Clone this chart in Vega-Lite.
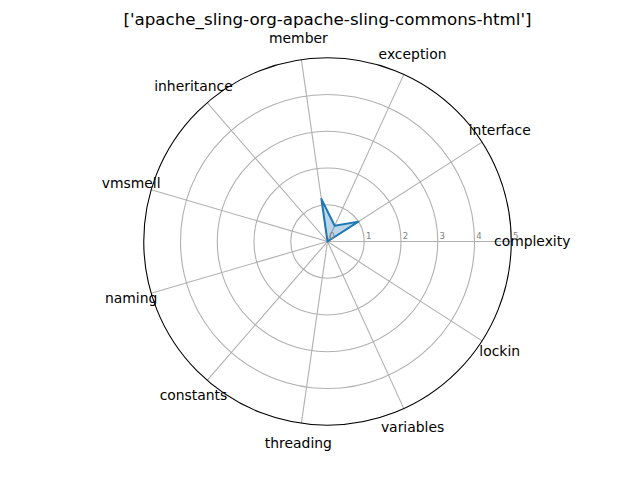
{
  "$schema": "https://vega.github.io/schema/vega-lite/v6.json",
  "width": 441,
  "height": 441,
  "autosize": {"type": "none"},
  "padding": {"left": 107, "top": 21, "right": 92, "bottom": 18},
  "background": "white",
  "config": {"view": {"stroke": null}, "font": "DejaVu Sans"},
  "title": {
    "text": "['apache_sling-org-apache-sling-commons-html']",
    "fontSize": 16.7,
    "fontWeight": "normal",
    "font": "DejaVu Sans",
    "color": "black",
    "anchor": "middle",
    "frame": "group",
    "baseline": "alphabetic",
    "offset": -21
  },
  "datasets": {
    "metrics": [
      {"metric": "complexity", "i": 0, "value": 0},
      {"metric": "interface", "i": 1, "value": 1.0},
      {"metric": "exception", "i": 2, "value": 0.47},
      {"metric": "member", "i": 3, "value": 1.17},
      {"metric": "inheritance", "i": 4, "value": 0},
      {"metric": "vmsmell", "i": 5, "value": 0},
      {"metric": "naming", "i": 6, "value": 0},
      {"metric": "constants", "i": 7, "value": 0},
      {"metric": "threading", "i": 8, "value": 0},
      {"metric": "variables", "i": 9, "value": 0},
      {"metric": "lockin", "i": 10, "value": 0}
    ],
    "rings": [
      {"r": 0},
      {"r": 1},
      {"r": 2},
      {"r": 3},
      {"r": 4},
      {"r": 5}
    ]
  },
  "layer": [
    {
      "data": {"name": "rings"},
      "transform": [{"filter": "datum.r >= 1 && datum.r <= 4"}],
      "mark": {"type": "point", "shape": "circle", "filled": false, "stroke": "#b0b0b0", "strokeWidth": 1.1, "opacity": 1},
      "encoding": {
        "x": {"datum": 0, "type": "quantitative", "scale": {"domain": [-6, 6], "nice": false, "zero": false}, "axis": null},
        "y": {"datum": 0, "type": "quantitative", "scale": {"domain": [-6, 6], "nice": false, "zero": false}, "axis": null},
        "size": {"field": "r", "type": "quantitative", "scale": {"type": "pow", "exponent": 2, "domain": [0, 5], "range": [0, 135056]}, "legend": null}
      }
    },
    {
      "data": {"name": "metrics"},
      "transform": [
        {"calculate": "datum.i * 2 * PI / 11", "as": "angle"},
        {"calculate": "5 * cos(datum.angle)", "as": "sx"},
        {"calculate": "5 * sin(datum.angle)", "as": "sy"},
        {"calculate": "0", "as": "zero"}
      ],
      "mark": {"type": "rule", "stroke": "#b0b0b0", "strokeWidth": 1.1},
      "encoding": {
        "x": {"field": "zero", "type": "quantitative"},
        "y": {"field": "zero", "type": "quantitative"},
        "x2": {"field": "sx"},
        "y2": {"field": "sy"}
      }
    },
    {
      "data": {"name": "rings"},
      "transform": [{"filter": "datum.r == 5"}],
      "mark": {"type": "point", "shape": "circle", "filled": false, "stroke": "black", "strokeWidth": 1.1, "opacity": 1},
      "encoding": {
        "x": {"datum": 0, "type": "quantitative"},
        "y": {"datum": 0, "type": "quantitative"},
        "size": {"field": "r", "type": "quantitative", "legend": null}
      }
    },
    {
      "data": {"name": "metrics"},
      "transform": [
        {"calculate": "datum.i * 2 * PI / 11", "as": "angle"},
        {"calculate": "datum.value * cos(datum.angle)", "as": "px"},
        {"calculate": "datum.value * sin(datum.angle)", "as": "py"}
      ],
      "mark": {"type": "line", "interpolate": "linear-closed", "stroke": "#1f77b4", "strokeWidth": 2, "fill": "#1f77b4", "fillOpacity": 0.3, "strokeJoin": "round"},
      "encoding": {
        "x": {"field": "px", "type": "quantitative"},
        "y": {"field": "py", "type": "quantitative"},
        "order": {"field": "i", "type": "quantitative"}
      }
    },
    {
      "data": {"name": "metrics"},
      "transform": [
        {"calculate": "datum.i * 2 * PI / 11", "as": "angle"},
        {"calculate": "5.57 * cos(datum.angle)", "as": "lx"},
        {"calculate": "5.57 * sin(datum.angle)", "as": "ly"}
      ],
      "mark": {"type": "text", "fontSize": 13.9, "font": "DejaVu Sans", "color": "black", "align": "center", "baseline": "middle"},
      "encoding": {
        "x": {"field": "lx", "type": "quantitative"},
        "y": {"field": "ly", "type": "quantitative"},
        "text": {"field": "metric", "type": "nominal"}
      }
    },
    {
      "data": {"name": "rings"},
      "transform": [{"calculate": "0", "as": "zero"}],
      "mark": {"type": "text", "fontSize": 8.6, "font": "DejaVu Sans", "color": "#808080", "align": "left", "baseline": "alphabetic", "dx": 1.7, "dy": -2.7},
      "encoding": {
        "x": {"field": "r", "type": "quantitative"},
        "y": {"field": "zero", "type": "quantitative"},
        "text": {"field": "r", "type": "quantitative"}
      }
    }
  ]
}
